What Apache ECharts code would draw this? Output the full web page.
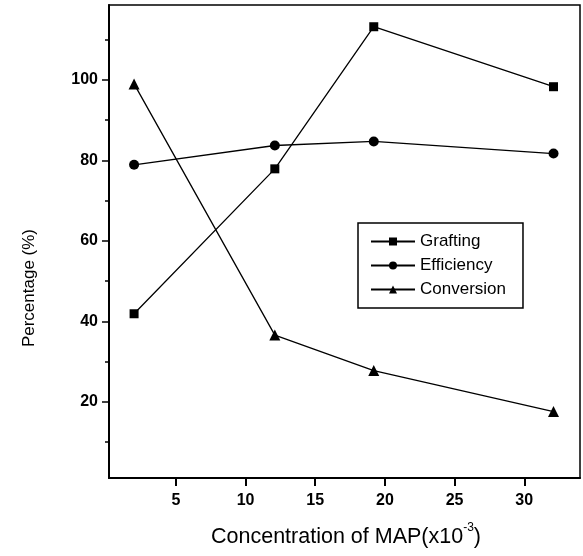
<!DOCTYPE html>
<html>
<head>
<meta charset="utf-8">
<script src="https://cdn.jsdelivr.net/npm/echarts@6/dist/echarts.min.js"></script>
<style>html,body{margin:0;padding:0;background:#fff}#c{width:583px;height:556px}</style>
</head>
<body>
<div id="c"></div>
<script>
var concentration = [2.0, 12.1, 19.2, 32.1];
var grafting = [41.9, 77.9, 113.2, 98.3];
var efficiency = [78.9, 83.7, 84.7, 81.7];
var conversion = [99.0, 36.6, 27.8, 17.6];
var xTicks = [5, 10, 15, 20, 25, 30];
var yTicks = [20, 40, 60, 80, 100];
var yMinorTicks = [10, 30, 50, 70, 90, 110];

function pairs(xs, ys) { return xs.map(function (x, i) { return [x, ys[i]]; }); }

var FONT = '"Liberation Sans", Arial, Helvetica, sans-serif';
var chart = echarts.init(document.getElementById('c'), null, { renderer: 'canvas' });
var lineStyle = { color: '#000', width: 1.3 };
chart.setOption({
  animation: false,
  backgroundColor: '#fff',
  grid: { left: 109, top: 5, right: 3, bottom: 78, show: true, borderColor: '#000', borderWidth: 1.5, backgroundColor: 'transparent' },
  xAxis: {
    type: 'value', min: 0.2, max: 34,
    axisLine: { show: true, lineStyle: { color: '#000', width: 2 } },
    axisTick: { show: true, customValues: xTicks, length: 8, inside: false, lineStyle: { color: '#000', width: 2 } },
    axisLabel: { customValues: xTicks, color: '#000', fontFamily: FONT, fontSize: 16, fontWeight: 'bold', margin: 15 },
    splitLine: { show: false }
  },
  yAxis: [{
    type: 'value', min: 1.1, max: 118.6,
    axisLine: { show: true, lineStyle: { color: '#000', width: 2 } },
    axisTick: { show: true, customValues: yTicks, length: 7, lineStyle: { color: '#000', width: 1.5 } },
    axisLabel: { customValues: yTicks, color: '#000', fontFamily: FONT, fontSize: 16, fontWeight: 'bold', margin: 11 },
    splitLine: { show: false }
  }, {
    type: 'value', min: 1.1, max: 118.6, position: 'left',
    axisLine: { show: false },
    axisTick: { show: true, customValues: yMinorTicks, length: 4, lineStyle: { color: '#000', width: 1.5 } },
    axisLabel: { show: false },
    splitLine: { show: false }
  }],
  legend: {
    left: 358, top: 223, orient: 'vertical',
    padding: [9, 17, 9, 12],
    itemWidth: 44, itemHeight: 10, itemGap: 5,
    borderColor: '#000', borderWidth: 1.5, backgroundColor: '#fff',
    textStyle: { color: '#000', fontFamily: FONT, fontSize: 17, lineHeight: 19 },
    data: ['Grafting', 'Efficiency', 'Conversion']
  },
  graphic: [{
    type: 'text', left: 21, top: 229, rotation: Math.PI / 2, style: { text: 'Percentage (%)', fill: '#000', font: '17px ' + FONT }
  }],
  title: {
    text: '{a|Concentration of MAP(x10}{s|-3}{a|)}',
    left: 206, top: 517,
    textStyle: { fontWeight: 'normal', rich: { a: { fontFamily: FONT, fontSize: 21.5, fontWeight: 'normal', color: '#000', verticalAlign: 'bottom', lineHeight: 26 }, s: { fontFamily: FONT, fontSize: 12, fontWeight: 'normal', color: '#000', verticalAlign: 'top', lineHeight: 26, padding: [0, 0, 15, 0] } } }
  },
  series: [
    { name: 'Grafting', type: 'line', data: pairs(concentration, grafting), symbol: 'rect', symbolSize: 9, itemStyle: { color: '#000' }, lineStyle: lineStyle },
    { name: 'Efficiency', type: 'line', data: pairs(concentration, efficiency), symbol: 'circle', symbolSize: 10, itemStyle: { color: '#000' }, lineStyle: lineStyle },
    { name: 'Conversion', type: 'line', data: pairs(concentration, conversion), symbol: 'triangle', symbolSize: 11, itemStyle: { color: '#000' }, lineStyle: lineStyle }
  ]
});
</script>
</body>
</html>
